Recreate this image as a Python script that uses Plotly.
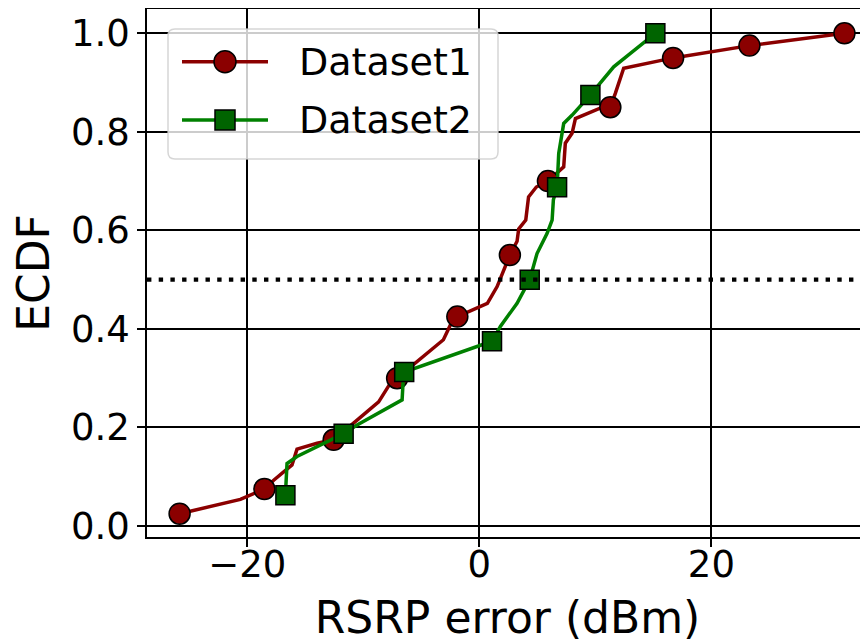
import plotly.graph_objects as go

# ---------------- data ----------------
ds1_x = [-25.84, -20.60, -18.53, -17.73, -16.15, -15.72, -13.99, -12.56, -10.54, -8.68,
         -7.67, -7.09, -3.10, -2.50, -1.90, 0.69, 1.53, 2.63, 3.25, 3.39,
         4.00, 4.24, 4.91, 5.91, 7.27, 7.41, 7.99, 8.28, 10.41, 11.29,
         11.72, 12.44, 15.89, 16.70, 23.28, 31.47]
ds1_y = [0.025, 0.054, 0.075, 0.093, 0.124, 0.156, 0.168, 0.175, 0.215, 0.252,
         0.290, 0.300, 0.378, 0.408, 0.425, 0.452, 0.486, 0.550, 0.578, 0.603,
         0.621, 0.668, 0.688, 0.700, 0.729, 0.777, 0.797, 0.827, 0.848, 0.850,
         0.878, 0.929, 0.946, 0.950, 0.975, 1.000]
ds1_marker_idx = [0, 2, 7, 11, 14, 17, 23, 29, 33, 34, 35]

ds2_x = [-16.72, -16.58, -15.72, -11.70, -10.54, -6.66, -6.58, -6.48, 1.09, 1.81,
         3.25, 4.34, 4.97, 5.84, 6.27, 6.38, 6.70, 6.84, 7.27, 8.00,
         9.57, 11.58, 13.02, 15.17]
ds2_y = [0.0625, 0.127, 0.141, 0.1875, 0.205, 0.256, 0.290, 0.3125, 0.375, 0.405,
         0.452, 0.500, 0.553, 0.594, 0.621, 0.662, 0.6875, 0.756, 0.817, 0.834,
         0.875, 0.932, 0.959, 1.000]
ds2_marker_idx = [0, 3, 7, 8, 11, 16, 20, 23]

series_names = ["Dataset1", "Dataset2"]
median_level = 0.5

x_range = [-28.65, 33.5]
y_range = [-0.0223, 1.0493]
x_tickvals = [-20, 0, 20]
x_ticktext = ["\u221220", "0", "20"]
y_tickvals = [0.0, 0.2, 0.4, 0.6, 0.8, 1.0]
y_ticktext = ["0.0", "0.2", "0.4", "0.6", "0.8", "1.0"]

# ---------------- styling ----------------
FONT = "DejaVu Sans"
RED_LINE, RED_FILL = "#8b0000", "#8b0000"
GRN_LINE, GRN_FILL = "#008000", "#006400"

# the page body adds an 8px margin, so the figure is 8px smaller and
# all reference-pixel positions are shifted by OFF
OFF = 8
W, H = 868 - OFF, 643 - OFF
ML, MR, MT, MB = 139, 0, 1, 106

fig = go.Figure()

def add_series(xs, ys, idx, name, lcol, fcol, symbol, msize):
    fig.add_trace(go.Scatter(x=xs, y=ys, mode="lines", name=name,
                             line=dict(color=lcol, width=3.5),
                             showlegend=False, hoverinfo="skip"))
    fig.add_trace(go.Scatter(x=[xs[i] for i in idx], y=[ys[i] for i in idx],
                             mode="markers", name=name, showlegend=False,
                             marker=dict(symbol=symbol, size=msize, color=fcol,
                                         line=dict(color="black", width=1.5))))

add_series(ds1_x, ds1_y, ds1_marker_idx, series_names[0], RED_LINE, RED_FILL, "circle", 21)
add_series(ds2_x, ds2_y, ds2_marker_idx, series_names[1], GRN_LINE, GRN_FILL, "square", 19)

# median reference line (dotted)
fig.add_shape(type="line", xref="paper", yref="y", x0=0, x1=1,
              y0=median_level, y1=median_level,
              line=dict(color="black", width=4.4, dash="4.4px,7.3px"), layer="above")

# ---------------- custom matplotlib-like legend ----------------
PW = W - ML - MR
PH = H - MT - MB

def px_x(p):  # reference pixel -> paper x
    return (p - OFF - ML) / PW

def px_y(p):  # reference pixel (from top) -> paper y
    return (H - MB - (p - OFF)) / PH

ax0, ay0 = 0.0, 1.0           # anchor: top-left corner of plot area
def off_x(p): return p - OFF - ML
def off_y(p): return -(p - OFF - MT)

bx0, bx1, by0, by1, r = 168, 498, 29, 159, 7
x0, x1, y0, y1 = off_x(bx0), off_x(bx1), off_y(by0), off_y(by1)
path = (f"M{x0+r},{y0} L{x1-r},{y0} Q{x1},{y0} {x1},{y0-r} "
        f"L{x1},{y1+r} Q{x1},{y1} {x1-r},{y1} L{x0+r},{y1} Q{x0},{y1} {x0},{y1+r} "
        f"L{x0},{y0-r} Q{x0},{y0} {x0+r},{y0} Z")
fig.add_shape(type="path", xref="paper", yref="paper", xsizemode="pixel", ysizemode="pixel",
              xanchor=ax0, yanchor=ay0, path=path,
              fillcolor="rgba(255,255,255,0.8)", line=dict(color="rgba(204,204,204,0.8)", width=1.5),
              layer="above")

rows = [(61.7, RED_LINE, RED_FILL, "circle", 11, series_names[0]),
        (120.0, GRN_LINE, GRN_FILL, "square", 10, series_names[1])]
for (ry, lcol, fcol, sym, rad, label) in rows:
    fig.add_shape(type="line", xref="paper", yref="paper", xsizemode="pixel", ysizemode="pixel",
                  xanchor=ax0, yanchor=ay0, x0=off_x(182), x1=off_x(268), y0=off_y(ry), y1=off_y(ry),
                  line=dict(color=lcol, width=3.5), layer="above")
    cx = off_x(225)
    cy = off_y(ry)
    fig.add_shape(type="circle" if sym == "circle" else "rect", xref="paper", yref="paper",
                  xsizemode="pixel", ysizemode="pixel", xanchor=ax0, yanchor=ay0,
                  x0=cx - rad, x1=cx + rad, y0=cy - rad, y1=cy + rad,
                  fillcolor=fcol, line=dict(color="black", width=1.5), layer="above")
    fig.add_annotation(xref="paper", yref="paper", x=px_x(297), y=px_y(ry),
                       xanchor="left", yanchor="middle", showarrow=False, text=label,
                       font=dict(family=FONT, size=38, color="black"))

tick_font = dict(family=FONT, size=37, color="black")
title_font = dict(family=FONT, size=44, color="black")
axis_common = dict(showgrid=True, gridcolor="black", gridwidth=1.5,
                   showline=True, linecolor="black", linewidth=1.5,
                   ticks="outside", ticklen=8, tickwidth=1.5, tickcolor="black",
                   zeroline=False, tickfont=tick_font)

fig.update_xaxes(range=x_range, tickmode="array", tickvals=x_tickvals, ticktext=x_ticktext,
                 mirror=True, ticklabelstandoff=-14,
                 title=dict(text="RSRP error (dBm)", font=title_font, standoff=33),
                 **axis_common)
fig.update_yaxes(range=y_range, tickmode="array", tickvals=y_tickvals, ticktext=y_ticktext,
                 mirror=False,
                 title=dict(text="ECDF", font=title_font, standoff=21),
                 **axis_common)

fig.update_layout(width=W, height=H, margin=dict(l=ML, r=MR, t=MT, b=MB, autoexpand=False),
                  plot_bgcolor="white", paper_bgcolor="white", showlegend=False,
                  font=dict(family=FONT, color="black"))

fig.write_html("out.html")
